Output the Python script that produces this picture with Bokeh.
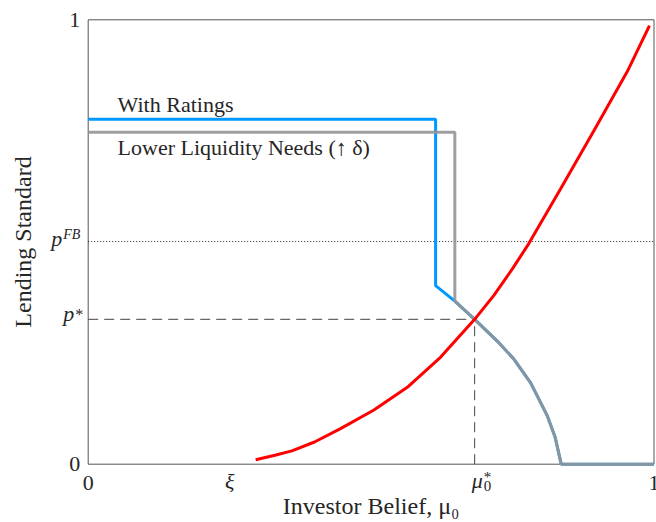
import math
from bokeh.plotting import figure
from bokeh.models import Range1d, Label
from bokeh.embed import file_html
from bokeh.resources import INLINE

# ---- data ----
xi = 0.25
mu_star = 0.683
p_star = 0.326
p_fb = 0.501

# investor break-even lending standard (red)
red_x = [0.296, 0.330, 0.360, 0.400, 0.446, 0.505, 0.564, 0.623, 0.683, 0.717, 0.750, 0.779, 0.835, 0.894, 0.953, 0.992]
red_y = [0.010, 0.020, 0.030, 0.050, 0.080, 0.122, 0.173, 0.241, 0.326, 0.380, 0.440, 0.497, 0.620, 0.751, 0.884, 0.987]

# common decreasing branch of the bank's lending standard
curve_x = [0.614, 0.648, 0.683, 0.723, 0.752, 0.782, 0.811, 0.825, 0.836, 1.0]
curve_y = [0.402, 0.367, 0.326, 0.277, 0.237, 0.183, 0.110, 0.062, 0.0, 0.0]

ratings_level, ratings_cut = 0.776, 0.614
liquidity_level, liquidity_cut = 0.747, 0.648

x_tick_pos = [0, xi, mu_star, 1]
y_tick_pos = [0, p_star, p_fb, 1]

blue_x = [0, ratings_cut] + curve_x
blue_y = [ratings_level, ratings_level] + curve_y
gray_x = [0, liquidity_cut] + [x for x in curve_x if x >= liquidity_cut]
gray_y = [liquidity_level, liquidity_level] + [y for x, y in zip(curve_x, curve_y) if x >= liquidity_cut]

# ---- layout (pixels) ----
W, H = 656, 522
AX_L, AX_R, AX_T, AX_B = 87.7, 653.5, 19.3, 463.7   # where the unit box sits
sx = AX_R - AX_L
sy = AX_B - AX_T
x_rng = (-AX_L / sx, (W - AX_L) / sx)
y_rng = (-(H - AX_B) / sy, AX_B / sy)

FONT = "Liberation Serif"
TXT = "#262626"
BOX = "#555555"
BASE_FIX = 0.32  # em: lift of the drawn baseline

p = figure(width=W, height=H, x_range=Range1d(*x_rng), y_range=Range1d(*y_rng),
           output_backend="svg", toolbar_location=None,
           min_border_left=0, min_border_right=0, min_border_top=0, min_border_bottom=0)
p.axis.visible = False
p.grid.visible = False
p.outline_line_color = None
p.background_fill_color = "white"
p.border_fill_color = "white"

# axes box
p.quad(left=[0], right=[1], bottom=[0], top=[1], fill_color=None, line_color=BOX, line_width=1)

# reference lines
p.line([0, 1], [p_fb, p_fb], line_color="#222222", line_width=1, line_dash="1 2")
p.line([0, mu_star], [p_star, p_star], line_color="#444444", line_width=1, line_dash="10 6")
p.line([mu_star, mu_star], [0, p_star], line_color="#444444", line_width=1, line_dash="10 6")

# curves
p.line(blue_x, blue_y, line_color="#0099ff", line_width=3)
p.line(gray_x, gray_y, line_color="#959595", line_alpha=0.9, line_width=3)
p.line(red_x, red_y, line_color="#ff0000", line_width=3)


def lab(x, y, text, size=22, style="normal", align="center", xo=0, yo=0, rotated=False):
    fix = BASE_FIX * size
    if rotated:
        xo -= fix
    else:
        yo += fix
    p.add_layout(Label(x=x, y=y, x_units="data", y_units="data", text=text,
                       x_offset=xo, y_offset=yo, angle=math.pi / 2 if rotated else 0.0,
                       text_font=FONT, text_font_size=f"{size}px",
                       text_font_style=style, text_align=align, text_baseline="alphabetic",
                       text_color=TXT))


# curve annotations
lab(0.052, 0.794, "With Ratings", align="left")
lab(0.052, 0.696, "Lower Liquidity Needs (↑ δ)", align="left")

# axis titles
lab(0, 0.5, "Lending Standard", size=24, xo=-58, rotated=True)
lab(0.5, 0, "Investor Belief, μ₀", size=24, yo=-49)

# y tick labels
lab(0, y_tick_pos[3], "1", align="right", xo=-8, yo=-7)
lab(0, y_tick_pos[0], "0", align="right", xo=-8, yo=-7)
lab(0, p_star, "p", style="italic", align="right", xo=-14, yo=-1)
lab(0, p_star, "*", size=16, align="left", xo=-13, yo=0)
lab(0, p_fb, "p", style="italic", align="right", xo=-26, yo=-4)
lab(0, p_fb, "FB", size=14, style="italic", align="left", xo=-25, yo=3)

# x tick labels
lab(x_tick_pos[0], 0, "0", yo=-26)
lab(xi, 0, "ξ", style="italic", yo=-24)
lab(mu_star, 0, "μ", style="italic", align="left", xo=-3, yo=-23)
lab(mu_star, 0, "0", size=15, align="left", xo=9, yo=-27)
lab(mu_star, 0, "*", size=15, align="left", xo=9, yo=-18)
lab(x_tick_pos[3], 0, "1", yo=-26)

open("out.html", "w").write(file_html(p, INLINE))
